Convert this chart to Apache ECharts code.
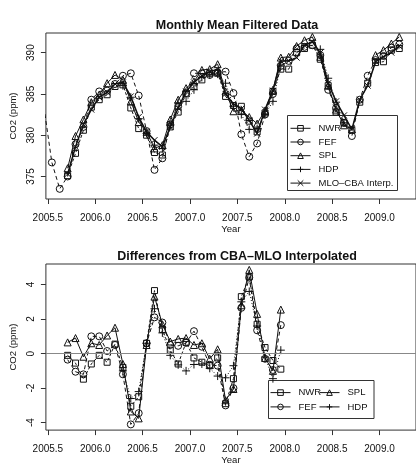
<!DOCTYPE html>
<html>
<head>
<meta charset="utf-8">
<script src="https://cdn.jsdelivr.net/npm/echarts@6/dist/echarts.min.js"></script>
<style>
  html, body { margin: 0; padding: 0; background: #fff; }
  #chart { width: 416px; height: 466px; }
</style>
</head>
<body>
<div id="chart"></div>
<script>
// ---- Monthly mean filtered CO2 (ppm), one entry per month ----
const monthsTop = [
  '2005-06','2005-07','2005-08','2005-09','2005-10','2005-11','2005-12',
  '2006-01','2006-02','2006-03','2006-04','2006-05','2006-06','2006-07','2006-08','2006-09','2006-10','2006-11','2006-12',
  '2007-01','2007-02','2007-03','2007-04','2007-05','2007-06','2007-07','2007-08','2007-09','2007-10','2007-11','2007-12',
  '2008-01','2008-02','2008-03','2008-04','2008-05','2008-06','2008-07','2008-08','2008-09','2008-10','2008-11','2008-12',
  '2009-01','2009-02','2009-03'
];
const nwrTop = [
  null, null, null, 375.1, 377.8, 380.6, 383.4,
  384.3, 384.9, 385.9, 386.1, 383.3, 380.8, 380.0, 377.9, 377.6, 381.0, 382.8, 385.0,
  385.9, 386.7, 387.5, 387.5, 384.7, 383.6, 383.5, 381.7, 380.4, 382.7, 385.3, 388.0,
  388.0, 390.0, 390.5, 390.9, 389.2, 386.0, 382.8, 381.5, 380.6, 384.0, 386.3, 388.8,
  388.9, 390.3, 390.5
];
const fefTop = [
  383.4, 376.7, 373.5, 375.0, 378.9, 381.0, 384.3,
  385.3, 385.4, 386.2, 387.2, 387.5, 384.8, 380.5, 375.8, 377.2, 381.3, 383.5, 385.1,
  387.5, 387.5, 387.3, 387.6, 387.7, 385.1, 380.1, 377.4, 379.0, 382.5, 385.0, 388.4,
  389.0, 390.5, 390.7, 390.9, 389.7, 385.5, 383.3, 381.5, 379.9, 384.3, 387.2, 389.1,
  389.6, 390.6, 391.0
];
const splTop = [
  null, null, null, 376.0, 379.9, 381.9, 384.0,
  384.9, 386.3, 387.3, 386.7, 384.1, 381.6, 380.4, 378.4, 378.8, 381.9, 384.3, 385.7,
  386.5, 387.9, 388.0, 388.6, 385.3, 382.9, 383.0, 382.2, 381.4, 383.0, 385.5, 389.4,
  389.5, 390.8, 391.5, 391.9, 389.5, 386.0, 383.1, 381.2, 380.7, null, null, 389.7,
  390.3, 391.1, 391.9
];
const hdpTop = [
  null, null, null, null, null, null, null,
  null, null, null, 386.0, 384.6, 382.0, 380.2, 378.8, 378.4, 381.2, 383.9, 384.1,
  385.5, 387.0, 387.3, 387.4, 386.3, 383.5, 382.5, 380.7, 380.8, 382.5, 384.1, 388.5,
  null, null, null, null, 390.4, 386.9, 384.0, 381.5, null, null, null, null,
  null, null, null
];
const mloTop = [
  null, null, null, 375.3, 378.6, 381.3, 383.1,
  384.6, 385.2, 386.2, 386.4, 384.7, 382.2, 380.4, 379.4, 378.6, 381.0, 383.3, 385.3,
  386.4, 387.2, 387.7, 388.0, 385.0, 383.8, 383.2, 381.8, 380.2, 383.1, 385.4, 389.0,
  389.0, 389.4, 390.9, 391.3, 390.0, 386.3, 384.1, 382.4, 380.7, 384.3, 386.0, 388.9,
  389.5, 390.0, 390.8
];

// ---- Site minus CBA–MLO interpolated (ppm) ----
const monthsDiff = [
  '2005-09','2005-10','2005-11','2005-12',
  '2006-01','2006-02','2006-03','2006-04','2006-05','2006-06','2006-07','2006-08','2006-09','2006-10','2006-11','2006-12',
  '2007-01','2007-02','2007-03','2007-04','2007-05','2007-06','2007-07','2007-08','2007-09','2007-10','2007-11','2007-12'
];
const nwrDiff = [
  -0.1, -0.55, -1.48, -0.6,
  -0.1, -0.5, 0.55, -0.8, -3.05, -2.5, 0.6, 3.65, 1.4, 0.2, -0.6, 0.65,
  -0.25, -0.5, -0.7, -0.25, -2.9, -1.45, 3.3, 4.45, 1.7, 0.35, -0.4, -0.9
];
const fefDiff = [
  -0.35, -1.05, -1.2, 1.0,
  1.0, 0.15, 0.5, -1.2, -4.1, -3.45, 0.6, 2.1, 1.8, 0.5, 0.45, 0.62,
  1.3, 0.4, -0.65, -0.7, -3.0, -2.0, 2.65, 4.4, 1.35, -0.3, -0.95, 1.65
];
const splDiff = [
  0.65, 0.9, -0.18, 0.6,
  0.5, 1.05, 1.5, -0.6, -3.35, -3.75, 0.5, 3.3, 1.7, 0.7, 0.85, 0.9,
  0.5, 0.6, -0.3, 0.25, -2.7, -2.05, 2.8, 4.85, 2.3, -0.25, -1.0, 2.55
];
const hdpDiff = [
  null, null, null, null,
  null, null, null, -1.0, -2.6, -2.2, 0.6, 2.6, 1.2, -0.1, -0.65, -1.0,
  -0.63, -0.6, -0.85, -1.3, -1.4, -0.7, 3.0, 3.6, 1.6, -0.2, -1.45, 0.2
];

// ---- Tick labels ----
const yearTicks = [2005.5, 2006.0, 2006.5, 2007.0, 2007.5, 2008.0, 2008.5, 2009.0];
const co2Ticks = [375, 380, 385, 390];
const diffTicks = [-4, -2, 0, 2, 4];

// mid-month decimal year
function decimalYear(m) {
  const parts = m.split('-').map(Number);
  return parts[0] + (parts[1] - 0.5) / 12;
}
function pairs(months, values) {
  return months.map((m, i) => [decimalYear(m), values[i] == null ? '-' : values[i]]);
}

const FONT = 'Liberation Sans, Arial, Helvetica, sans-serif';
const INK = '#111';

const SYMBOLS = {
  NWR: { symbol: 'rect', size: 6 },
  FEF: { symbol: 'circle', size: 7 },
  SPL: { symbol: 'triangle', size: 7 },
  HDP: { symbol: 'path://M0,5L10,5M5,0L5,10', size: 8 },
  MLO: { symbol: 'path://M0,0L10,10M10,0L0,10', size: 6 }
};
const LINES = {
  NWR: { type: [3, 2], width: 1 },
  FEF: { type: [4, 3], width: 1 },
  SPL: { type: 'solid', width: 1 },
  HDP: { type: [1, 2], width: 1 },
  MLO: { type: 'solid', width: 1.5 }
};

function siteSeries(name, key, data, gridIdx) {
  return {
    type: 'line',
    name: name,
    xAxisIndex: gridIdx,
    yAxisIndex: gridIdx,
    data: data,
    symbol: SYMBOLS[key].symbol,
    symbolSize: SYMBOLS[key].size,
    showAllSymbol: true,
    connectNulls: false,
    clip: true,
    silent: true,
    itemStyle: { color: 'none', borderColor: INK, borderWidth: 1 },
    lineStyle: { color: INK, width: LINES[key].width, type: LINES[key].type },
    emphasis: { disabled: true }
  };
}

const xMin = 2005.479, xMax = 2009.385;

function xAxisFor(gridIdx) {
  return {
    type: 'value', gridIndex: gridIdx, min: xMin, max: xMax,
    name: 'Year', nameLocation: 'middle', nameGap: 24,
    nameTextStyle: { fontFamily: FONT, fontSize: 9.5, color: INK },
    axisLine: { show: false, onZero: false },
    axisTick: { show: true, length: 5, lineStyle: { color: '#333' }, customValues: yearTicks },
    axisLabel: {
      fontFamily: FONT, fontSize: 10, color: INK, margin: 14,
      customValues: yearTicks,
      formatter: v => Number(v).toFixed(1)
    },
    splitLine: { show: false }
  };
}
function yAxisFor(gridIdx, min, max, ticks) {
  return {
    type: 'value', gridIndex: gridIdx, min: min, max: max,
    name: 'CO2 (ppm)', nameLocation: 'middle', nameGap: 27,
    nameTextStyle: { fontFamily: FONT, fontSize: 9.5, color: INK },
    axisLine: { show: false, onZero: false },
    axisTick: { show: true, length: 5, lineStyle: { color: '#333' }, customValues: ticks },
    axisLabel: {
      fontFamily: FONT, fontSize: 10, color: INK, margin: 10, rotate: 90,
      customValues: ticks
    },
    splitLine: { show: false }
  };
}

const legendText = { fontFamily: FONT, fontSize: 9.5, color: INK, lineHeight: 10, padding: [0, 0, 0, 3] };
const legendItem = { color: 'none', borderColor: INK, borderWidth: 1 };
const legendLine = { type: 'solid', width: 1, color: INK };

const chart = echarts.init(document.getElementById('chart'), null, { renderer: 'canvas' });
const topSeries = [
  siteSeries('NWR', 'NWR', pairs(monthsTop, nwrTop), 0),
  siteSeries('FEF', 'FEF', pairs(monthsTop, fefTop), 0),
  siteSeries('SPL', 'SPL', pairs(monthsTop, splTop), 0),
  siteSeries('HDP', 'HDP', pairs(monthsTop, hdpTop), 0),
  siteSeries('MLO–CBA Interp.', 'MLO', pairs(monthsTop, mloTop), 0)
];
const diffSeries = [
  siteSeries('NWR', 'NWR', pairs(monthsDiff, nwrDiff), 1),
  siteSeries('FEF', 'FEF', pairs(monthsDiff, fefDiff), 1),
  siteSeries('SPL', 'SPL', pairs(monthsDiff, splDiff), 1),
  siteSeries('HDP', 'HDP', pairs(monthsDiff, hdpDiff), 1)
];
// zero reference line in the differences panel
diffSeries[0].markLine = {
  silent: true, symbol: 'none', label: { show: false },
  lineStyle: { color: '#888', width: 1, type: 'solid' },
  data: [{ yAxis: 0 }]
};

function legendBlock(left, top, gap, names) {
  return {
    orient: 'vertical', left: left, top: top, itemWidth: 20, itemHeight: 7, itemGap: gap,
    selectedMode: false, padding: 0, textStyle: legendText,
    itemStyle: legendItem, lineStyle: legendLine, data: names
  };
}

chart.setOption({
  animation: false,
  backgroundColor: '#fff',
  textStyle: { fontFamily: FONT },
  title: [
    { text: 'Monthly Mean Filtered Data', left: 232, top: 14, textAlign: 'center',
      textStyle: { fontFamily: FONT, fontSize: 12.5, fontWeight: 'bold', color: INK } },
    { text: 'Differences from CBA–MLO Interpolated', left: 232, top: 245, textAlign: 'center',
      textStyle: { fontFamily: FONT, fontSize: 12.5, fontWeight: 'bold', color: INK } }
  ],
  grid: [
    { left: 45, top: 33, right: -4, bottom: 267, show: true, borderColor: '#333', borderWidth: 1, backgroundColor: 'transparent' },
    { left: 45, top: 264, right: -4, bottom: 35.3, show: true, borderColor: '#333', borderWidth: 1, backgroundColor: 'transparent' }
  ],
  xAxis: [xAxisFor(0), xAxisFor(1)],
  yAxis: [yAxisFor(0, 372.27, 392.38, co2Ticks), yAxisFor(1, -4.43, 5.19, diffTicks)],
  legend: [
    legendBlock(290, 123, 3.1, ['NWR', 'FEF', 'SPL', 'HDP', 'MLO–CBA Interp.']),
    legendBlock(270, 387.3, 3.7, ['NWR', 'FEF']),
    legendBlock(319, 387.3, 3.7, ['SPL', 'HDP'])
  ],
  graphic: [
    { type: 'rect', shape: { x: 287.5, y: 115.5, width: 110, height: 75 }, silent: true,
      style: { fill: 'none', stroke: '#333', lineWidth: 1 } },
    { type: 'rect', shape: { x: 268.5, y: 380.5, width: 105.5, height: 38 }, silent: true,
      style: { fill: 'none', stroke: '#333', lineWidth: 1 } }
  ],
  series: topSeries.concat(diffSeries)
});
</script>
</body>
</html>
